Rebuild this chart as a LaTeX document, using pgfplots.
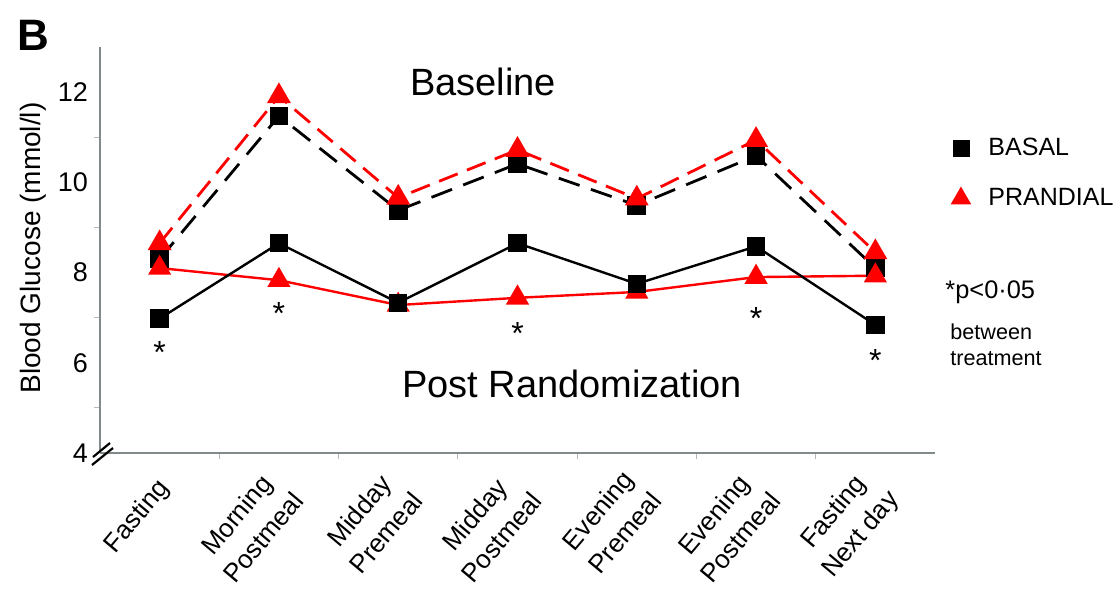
\documentclass[border=0pt]{standalone}
\usepackage{fontspec}
\setmainfont{Liberation Sans}
\usepackage{pgfplots}
\pgfplotsset{compat=1.18}
\definecolor{axgray}{RGB}{128,138,138}
\definecolor{myred}{RGB}{255,0,0}
\begin{document}
\begin{tikzpicture}
\begin{axis}[
  scale only axis, width=417.5pt, height=203pt,
  xmin=-0.5, xmax=6.5, ymin=4, ymax=13,
  axis lines=left, axis line style={-, axgray, line width=0.8pt},
  clip=false,
  xtick={0,...,6},
  xticklabels={Fasting, Morning\\Postmeal, Midday\\Premeal, Midday\\Postmeal, Evening\\Premeal, Evening\\Postmeal, Fasting\\Next day},
  minor xtick={0.5,1.5,...,5.5},
  ytick={4,6,8,10,12}, yticklabels={4,6,8,10,12},
  minor ytick={5,7,9,11},
  major tick length=0pt, minor tick length=3pt, tick align=outside,
  tick style={axgray!60, line width=0.6pt},
  xticklabel style={xshift=5pt, yshift=-13pt, rotate=50, anchor=east, align=center, font=\fontsize{13}{17.5}\selectfont},
  yticklabel style={xshift=-2.5pt, font=\fontsize{13.5}{16}\selectfont},
  ylabel={Blood Glucose (mmol/l)},
  every axis y label/.style={at={(axis description cs:-0.0796,0.505)}, rotate=90, anchor=center, font=\fontsize{14}{16}\selectfont},
  legend style={at={(axis description cs:1.012,0.797)}, anchor=north west, draw=none, fill=none, font=\fontsize{12.5}{14}\selectfont, row sep=11pt},
  legend cell align=left,
]
\addlegendimage{only marks, mark=square*, mark size=4pt, black}
\addlegendentry{\hspace{7pt}BASAL}
\addlegendimage{only marks, mark=triangle*, mark size=5.5pt, myred}
\addlegendentry{\hspace{7pt}PRANDIAL}

% Baseline BASAL
\addplot[black, line width=1.4pt, dash pattern=on 11pt off 6pt, mark=square*, mark size=4pt, mark options={solid}]
  coordinates {(0,8.30) (1,11.47) (2,9.38) (3,10.41) (4,9.49) (5,10.59) (6,8.10)};
% Baseline PRANDIAL
\addplot[myred, line width=1.4pt, dash pattern=on 10pt off 5pt, mark=triangle*, mark size=5.5pt, mark options={solid}]
  coordinates {(0,8.65) (1,11.91) (2,9.66) (3,10.72) (4,9.64) (5,10.94) (6,8.45)};
% Post PRANDIAL
\addplot[myred, line width=1.2pt, mark=triangle*, mark size=5.5pt]
  coordinates {(0,8.10) (1,7.83) (2,7.28) (3,7.44) (4,7.57) (5,7.90) (6,7.93)};
% Post BASAL
\addplot[black, line width=1.2pt, mark=square*, mark size=4pt]
  coordinates {(0,6.98) (1,8.65) (2,7.33) (3,8.65) (4,7.75) (5,8.58) (6,6.84)};
% significance asterisks
\addplot[draw=none, mark=none, nodes near coords={*}, every node near coord/.style={anchor=center, font=\fontsize{16}{16}\selectfont}]
  coordinates {(0,6.23) (1,7.1) (3,6.64) (5,6.99) (6,6.04)};

\node[font=\fontsize{19}{22}\selectfont] at (rel axis cs:0.4587,0.9138) {Baseline};
\node[font=\fontsize{19}{22}\selectfont] at (rel axis cs:0.5653,0.170) {Post Randomization};
\node[font=\bfseries\fontsize{22}{24}\selectfont] at (rel axis cs:-0.0802,1.0296) {B};
\node[anchor=west, font=\fontsize{12.7}{15}\selectfont, inner sep=0pt] at (rel axis cs:1.012,0.397) {*p<0·05};
\node[anchor=west, align=left, font=\fontsize{10.8}{13}\selectfont, inner sep=0pt] at (rel axis cs:1.018,0.266) {between\\treatment};

\draw[black, line width=1.1pt] (rel axis cs:0,0) ++(-4pt,-6pt) -- ++(10.5pt,8.5pt);
\draw[black, line width=1.1pt] (rel axis cs:0,0) ++(-3.5pt,-2pt) -- ++(8.5pt,7pt);

\coordinate (BL) at (rel axis cs:-0.11976,-0.33251);
\coordinate (TR) at (rel axis cs:1.22156,1.11576);
\end{axis}
\pgfresetboundingbox
\path[use as bounding box] (BL) rectangle (TR);
\end{tikzpicture}
\end{document}
